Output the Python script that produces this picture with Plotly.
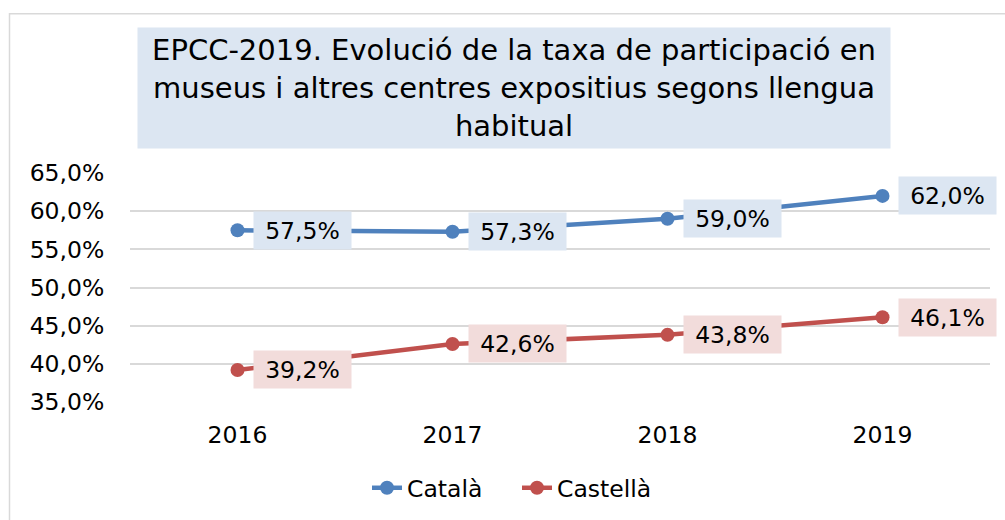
import plotly.graph_objects as go

years = ["2016", "2017", "2018", "2019"]
catala = [57.5, 57.3, 59.0, 62.0]
castella = [39.2, 42.6, 43.8, 46.1]
series_names = ["Català", "Castellà"]
title_lines = ["EPCC-2019. Evolució de la taxa de participació en",
               "museus i altres centres expositius segons llengua",
               "habitual"]
y_ticks = [35, 40, 45, 50, 55, 60, 65]

BLUE = "#4f81bd"
RED = "#c0504d"
BLUE_BG = "#dce6f2"
RED_BG = "#f2dcdb"
FONT = "DejaVu Sans"
FS = 23.5

def fmt(v):
    return f"{v:.1f}%".replace(".", ",")

fig = go.Figure()
for name, vals, col in [(series_names[0], catala, BLUE), (series_names[1], castella, RED)]:
    fig.add_trace(go.Scatter(
        x=years, y=vals, name=name, mode="lines+markers",
        line=dict(color=col, width=4.5),
        marker=dict(color=col, size=14),
    ))

annotations = []
for vals, bg in [(catala, BLUE_BG), (castella, RED_BG)]:
    for i, v in enumerate(vals):
        annotations.append(dict(
            x=i, y=v, xref="x", yref="y", text=fmt(v), showarrow=False,
            xanchor="left", yanchor="middle", xshift=15,
            font=dict(family=FONT, size=FS, color="#000000"),
            bgcolor=bg, borderpad=4.5, width=88, height=28, align="center",
        ))

annotations.append(dict(
    x=(514 - 130) / 860, y=(403 - 88) / 230, xref="paper", yref="paper",
    text="<br>".join(title_lines), showarrow=False,
    xanchor="center", yanchor="middle", align="center",
    font=dict(family=FONT, size=29, color="#000000"),
    bgcolor=BLUE_BG, width=744, height=112, borderpad=4,
))

fig.update_layout(
    width=1005, height=520,
    margin=dict(l=130, r=15, t=173, b=117),
    paper_bgcolor="white", plot_bgcolor="white",
    font=dict(family=FONT, size=FS, color="#000000"),
    showlegend=True,
    legend=dict(orientation="h", x=(517 - 130) / 860, y=(403 - 488) / 230,
                xanchor="center", yanchor="middle",
                entrywidth=105, entrywidthmode="pixels",
                font=dict(family=FONT, size=FS)),
    xaxis=dict(type="category", range=[-0.5, 3.5], showgrid=False,
               showline=False, zeroline=False, ticks="outside", ticklen=12,
               tickcolor="rgba(0,0,0,0)", tickfont=dict(family=FONT, size=FS)),
    yaxis=dict(range=[35, 65], tickvals=y_ticks,
               ticktext=[fmt(t) for t in y_ticks],
               showgrid=True, gridcolor="#d9d9d9", gridwidth=1.5,
               showline=False, zeroline=False, ticks="outside", ticklen=20,
               tickcolor="rgba(0,0,0,0)", tickfont=dict(family=FONT, size=FS)),
    annotations=annotations,
    shapes=[dict(type="rect", xref="paper", yref="paper",
                 x0=(9.5 - 130) / 860, x1=(1030 - 130) / 860,
                 y0=(403 - 560) / 230, y1=(403 - 13) / 230,
                 line=dict(color="#d9d9d9", width=1.5), layer="below")],
)

fig.write_html("out.html", config={"displayModeBar": False},
               post_script="document.body.style.margin='0';document.body.style.overflow='hidden';")
